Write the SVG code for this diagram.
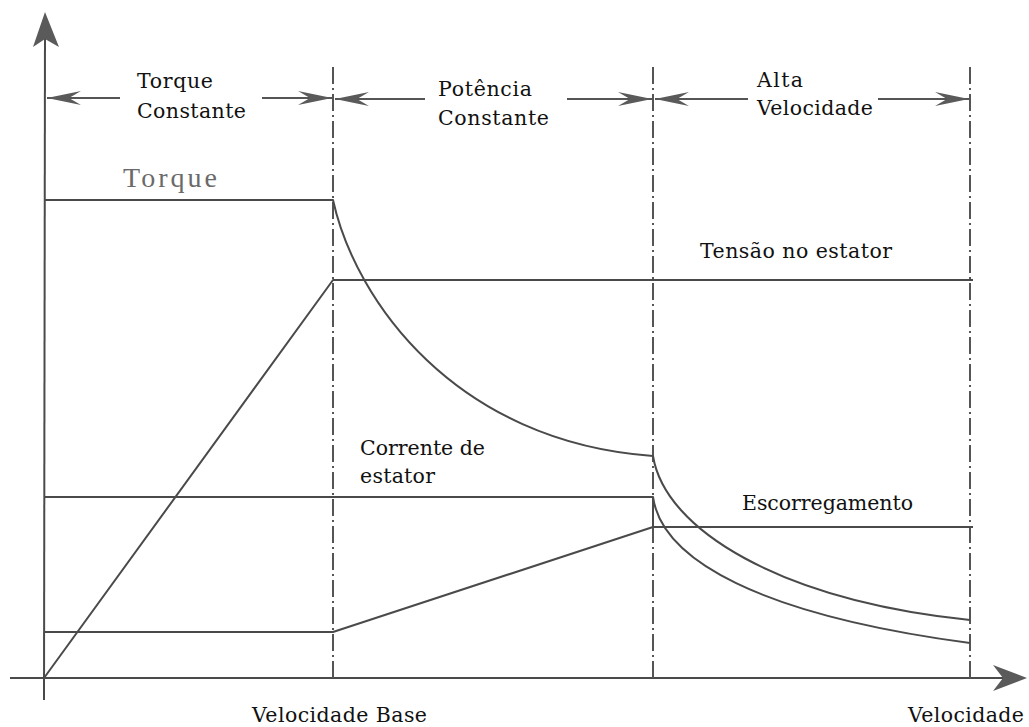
<svg xmlns="http://www.w3.org/2000/svg" width="1029" height="727" viewBox="0 0 1029 727">
<defs>
<style>
.ln{fill:none;stroke:#4a4a4a;stroke-width:2;stroke-linejoin:round}
.dd{fill:none;stroke:#555;stroke-width:2;stroke-dasharray:17 4 2 4}
.ar{fill:none;stroke:#555;stroke-width:2}
.hd{fill:#5a5a5a}
.t{font-family:"DejaVu Serif","Liberation Serif",serif;font-size:20.5px;fill:#111}
.big{font-family:"Liberation Serif","DejaVu Serif",serif;font-size:28px;fill:#6a6a6a}
</style>
<marker id="arr" viewBox="-36 -8 38 16" refX="0" refY="0" markerWidth="38" markerHeight="16" markerUnits="userSpaceOnUse" orient="auto">
<path class="hd" d="M0,0 L-34,-7 L-22,0 L-34,7 Z"/>
</marker>
</defs>
<rect width="1029" height="727" fill="#fff"/>
<g id="axes">
<line class="ln" x1="44" y1="700" x2="45" y2="30"/>
<path class="hd" d="M45,12 L33,47 L45,39 L59,47 Z"/>
<line class="ln" x1="10" y1="678" x2="1010" y2="678"/>
<path class="hd" d="M1027,678 L993,665 L1003,678 L993,691 Z"/>
</g>
<g id="region-bounds">
<line class="dd" x1="333" y1="67" x2="333" y2="678"/>
<line class="dd" x1="653" y1="67" x2="653" y2="678"/>
<line class="dd" x1="970" y1="67" x2="970" y2="678"/>
</g>
<g id="connectors">
<line class="ar" x1="120" y1="98" x2="47" y2="98" marker-end="url(#arr)"/>
<line class="ar" x1="262" y1="98" x2="332" y2="98" marker-end="url(#arr)"/>
<line class="ar" x1="425" y1="99" x2="335" y2="99" marker-end="url(#arr)"/>
<line class="ar" x1="567" y1="99" x2="652" y2="99" marker-end="url(#arr)"/>
<line class="ar" x1="748" y1="99" x2="655" y2="99" marker-end="url(#arr)"/>
<line class="ar" x1="878" y1="99" x2="969" y2="99" marker-end="url(#arr)"/>
</g>
<g id="torque-curve">
<path class="ln" d="M44,200 L333,200 C355,300 455,442 653,456 C665,530 780,600 970,620"/>
</g>
<g id="voltage-curve">
<path class="ln" d="M44,678 L333,280 L973,280"/>
</g>
<g id="current-curve">
<path class="ln" d="M44,497 L653,497 L653,527"/>
<path class="ln" d="M653,497 C662,560 760,615 970,643"/>
</g>
<g id="slip-curve">
<path class="ln" d="M44,632 L333,632 L653,527 L973,527"/>
</g>
<g id="labels">
<text class="t" x="137" y="88" textLength="76" lengthAdjust="spacing">Torque</text>
<text class="t" x="137" y="118" textLength="109" lengthAdjust="spacing">Constante</text>
<text class="t" x="438" y="96" textLength="94" lengthAdjust="spacing">Potência</text>
<text class="t" x="438" y="125" textLength="111" lengthAdjust="spacing">Constante</text>
<text class="t" x="757" y="87" textLength="46" lengthAdjust="spacing">Alta</text>
<text class="t" x="757" y="115" textLength="116" lengthAdjust="spacing">Velocidade</text>
<text class="big" x="123" y="187" textLength="94" lengthAdjust="spacing">Torque</text>
<text class="t" x="700" y="258" textLength="192" lengthAdjust="spacing">Tensão no estator</text>
<text class="t" x="360" y="455" textLength="125" lengthAdjust="spacing">Corrente de</text>
<text class="t" x="360" y="483" textLength="75" lengthAdjust="spacing">estator</text>
<text class="t" x="742" y="510" textLength="171" lengthAdjust="spacing">Escorregamento</text>
<text class="t" x="252" y="722" textLength="175" lengthAdjust="spacing">Velocidade Base</text>
<text class="t" x="908" y="722" textLength="116" lengthAdjust="spacing">Velocidade</text>
</g>
</svg>
